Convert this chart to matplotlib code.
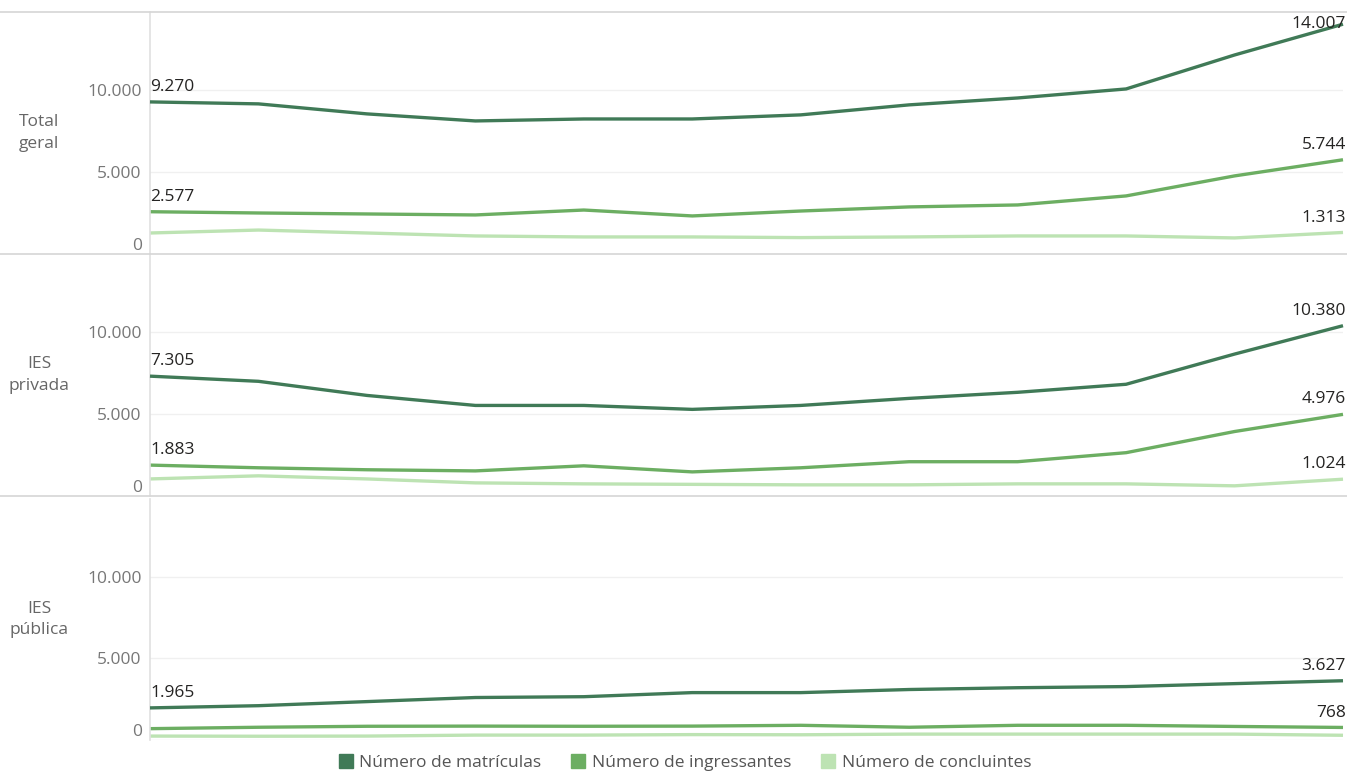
import matplotlib.pyplot as plt
from matplotlib.lines import Line2D

plt.rcParams['font.family'] = ['Open Sans', 'DejaVu Sans']

grupos = ["Total\ngeral", "IES\nprivada", "IES\npública"]
series = ["Número de matrículas", "Número de ingressantes", "Número de concluintes"]
cores = ["#407a57", "#6cae62", "#bde3b3"]

# valores (12 períodos)
total_mat = [9270, 9150, 8540, 8110, 8230, 8230, 8480, 9090, 9510, 10060, 12130, 14007]
total_ing = [2577, 2500, 2440, 2380, 2680, 2320, 2620, 2870, 2990, 3540, 4760, 5744]
total_con = [1280, 1460, 1280, 1100, 1040, 1040, 1000, 1040, 1100, 1100, 980, 1313]

priv_mat = [7305, 6990, 6130, 5520, 5520, 5280, 5520, 5950, 6320, 6810, 8650, 10380]
priv_ing = [1883, 1720, 1600, 1530, 1840, 1470, 1720, 2090, 2090, 2640, 3930, 4976]
priv_con = [1040, 1230, 1040, 800, 740, 710, 680, 680, 740, 740, 620, 1024]

pub_mat = [1965, 2100, 2350, 2600, 2650, 2900, 2900, 3090, 3200, 3270, 3450, 3627]
pub_ing = [694, 780, 840, 850, 840, 850, 900, 780, 900, 900, 830, 768]
pub_con = [240, 230, 240, 300, 300, 330, 320, 360, 360, 360, 360, 289]

dados = [
    [total_mat, total_ing, total_con],
    [priv_mat, priv_ing, priv_con],
    [pub_mat, pub_ing, pub_con],
]
# quais rótulos aparecem: (início, fim) por série
rotulos = [
    [(True, True), (True, True), (False, True)],
    [(True, True), (True, True), (False, True)],
    [(True, True), (False, True), (False, False)],
]

W, H = 1347, 771
fig = plt.figure(figsize=(W / 100, H / 100), dpi=100)

YMAX = 14750
x_left, x_right = 150, 1343
# (topo, base) de cada painel em pixels
paineis = [(12, 254), (254, 496), (499, 740)]
separadores = [12, 254, 496]


def fmt(v):
    return f"{v:,}".replace(",", ".")


for i, grupo in enumerate(grupos):
    top, base = paineis[i]
    ax = fig.add_axes([x_left / W, 1 - base / H,
                       (x_right - x_left) / W, (base - top) / H])
    for j in range(3):
        vals = dados[i][j]
        xs = list(range(len(vals)))
        ax.plot(xs, vals, color=cores[j], lw=2.4, zorder=3 - j,
                solid_capstyle='butt', clip_on=False)
        ini, fim = rotulos[i][j]
        if ini:
            ax.annotate(fmt(vals[0]), (0, vals[0]), xytext=(0, 5),
                        textcoords='offset points', ha='left', va='bottom',
                        fontsize=12.5, color='#252423')
        if fim:
            if vals[-1] > 13000:
                ax.annotate(fmt(vals[-1]), (xs[-1], YMAX), xytext=(2, -3),
                            textcoords='offset points', ha='right', va='top',
                            fontsize=12.5, color='#252423')
            else:
                ax.annotate(fmt(vals[-1]), (xs[-1], vals[-1]), xytext=(2, 5),
                            textcoords='offset points', ha='right',
                            va='bottom', fontsize=12.5, color='#252423')
    ax.set_xlim(0, 11)
    ax.set_ylim(0, YMAX)
    ax.set_xticks([])
    ax.set_yticks([0, 5000, 10000])
    ax.set_yticklabels(["0", "5.000", "10.000"])
    ax.get_yticklabels()[0].set_verticalalignment('bottom')
    ax.tick_params(axis='y', length=0, pad=6, labelsize=12.5, labelcolor='#777777')
    ax.grid(axis='y', color='#f0f0f0', lw=1)
    ax.set_axisbelow(True)
    for s in ['top', 'right', 'bottom']:
        ax.spines[s].set_visible(False)
    ax.spines['left'].set_color('#e0e0e0')
    ax.spines['left'].set_linewidth(1.2)

    fig.text(39 / W, 1 - (top + base) / 2 / H, grupo, ha='center',
             va='center', fontsize=12.5, color='#666666', linespacing=1.45)

# linhas de separação
for y in separadores:
    fig.add_artist(Line2D([0, 1], [1 - y / H, 1 - y / H], color='#d6d6d6',
                          lw=1.2))

handles = [Line2D([], [], marker='s', ls='', color=c, markersize=10)
           for c in cores]
fig.legend(handles, series, loc='center', bbox_to_anchor=(684 / W, 1 - 763 / H),
           ncol=3, frameon=False, fontsize=12.5, labelcolor='#555555',
           handletextpad=0.3, columnspacing=1.6, handlelength=1)

fig.savefig("out.png", dpi=100)
